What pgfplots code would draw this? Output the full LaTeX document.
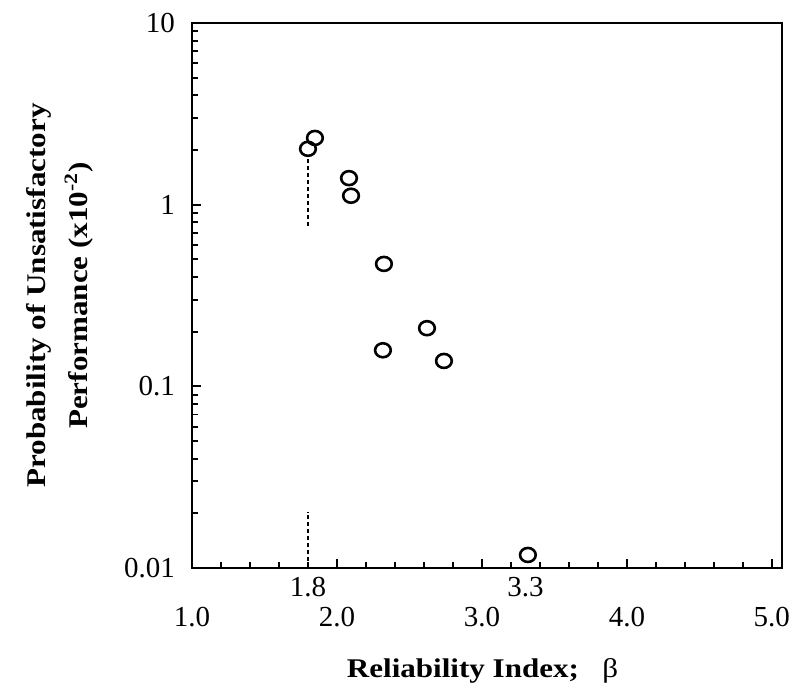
\documentclass[border=0pt]{standalone}
\usepackage{fontspec}
\setmainfont{Liberation Serif}
\newfontfamily\lblfont[FakeStretch=1.15]{Liberation Serif}
\usepackage{pgfplots}
\pgfplotsset{compat=1.18}
\pgfplotstableread{
x y
1.800 2.03
1.848 2.33
2.083 1.40
2.097 1.12
2.324 0.472
2.317 0.158
2.621 0.209
2.738 0.138
3.317 0.0118
}\pts
\begin{document}
\begin{tikzpicture}
\path[use as bounding box] (-96pt,-62pt) rectangle (304.5pt,284pt);
\begin{semilogyaxis}[
  at={(0,0)}, anchor=south west,
  scale only axis, width=295pt, height=272.5pt,
  xmin=1, xmax=5.07, ymin=0.01, ymax=10,
  axis line style={line width=1.2pt},
  tick align=inside, xtick pos=bottom, ytick pos=left,
  major tick length=4.5pt, minor tick length=3pt,
  every tick/.style={black, line width=0.9pt},
  xtick={1,2,3,4,5}, xticklabels={1.0,2.0,3.0,4.0,5.0},
  minor x tick num=4,
  ytick={0.01,0.1,1,10}, yticklabels={0.01,0.1,1,10},
  /pgf/number format/assume math mode=true,
  tick label style={font=\fontsize{14.5}{16}\selectfont},
  xticklabel style={anchor=center, yshift=-24.5pt},
  yticklabel style={xshift=-5pt},
  extra x ticks={1.8,3.3}, extra x tick labels={1.8,3.3},
  extra x tick style={major tick length=0pt, xticklabel style={yshift=15pt}},
  clip=false,
  xlabel={Reliability Index;\ \ \ \textmd{β}},
  ylabel={Probability of Unsatisfactory\\Performance (x10\textsuperscript{-2})},
  xlabel style={font=\lblfont\bfseries\fontsize{13.5}{21}\selectfont, at={(axis description cs:0.4924,-0.189)}, anchor=center},
  ylabel style={font=\lblfont\bfseries\fontsize{13.5}{21}\selectfont, align=center, at={(axis description cs:-0.2237,0.5)}, anchor=center},
]
\addplot[only marks, mark=o, mark size=3.5pt, mark options={line width=1.3pt, xscale=1.12}] table {\pts};
\addplot[line width=1.1pt, dash pattern=on 2.2pt off 1.3pt] coordinates {(1.8,0.764) (1.8,1.83)};
\addplot[line width=1.1pt, dash pattern=on 2.2pt off 1.3pt] coordinates {(1.8,0.01) (1.8,0.0204)};
\end{semilogyaxis}
\end{tikzpicture}
\end{document}
